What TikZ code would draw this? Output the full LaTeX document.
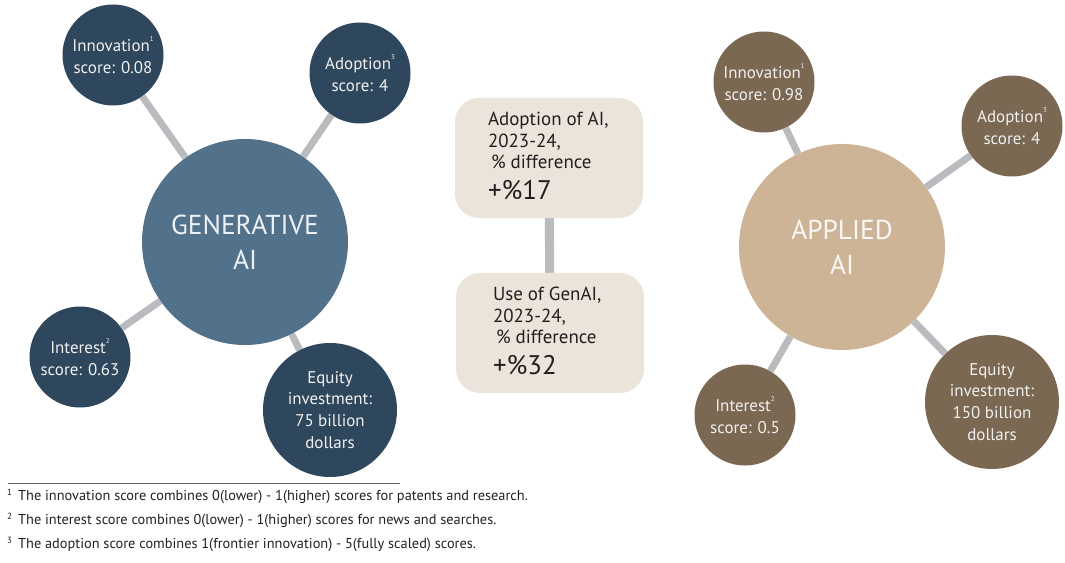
\documentclass[tikz,border=0pt]{standalone}
\usepackage{fontspec}
\setmainfont{PT Sans}
\usetikzlibrary{backgrounds}
\definecolor{genbig}{HTML}{52728C}
\definecolor{gensmall}{HTML}{2F475C}
\definecolor{appbig}{HTML}{CDB497}
\definecolor{appsmall}{HTML}{7A6852}
\definecolor{boxfill}{HTML}{EBE4DA}
\definecolor{linkgray}{HTML}{BABBBE}
\definecolor{inkdark}{HTML}{231F20}
\tikzset{%
  bigdot/.style={circle, minimum size=206bp, inner sep=0pt, align=center,
    font=\fontsize{27.5}{35}\selectfont},
  smalldot/.style={circle, minimum size=101bp, inner sep=0pt, align=center,
    text=white!94!black, font=\fontsize{17}{22}\selectfont},
  widedot/.style={smalldot, minimum size=134bp},
  link/.style={draw=linkgray, line width=7bp},
  statbox/.style={fill=boxfill, rounded corners=24bp, minimum width=188bp, minimum height=120bp},
  stattext/.style={anchor=west, align=left, inner sep=0pt, text=inkdark,
    font=\fontsize{19}{21.5}\selectfont},
  note/.style={anchor=base west, inner sep=0pt, text=inkdark, font=\fontsize{14.4}{16}\selectfont}
}
\newcommand{\fnmark}[1]{\raisebox{0.6em}{\fontsize{7}{7}\selectfont #1}}
\newcommand{\notemark}[1]{\makebox[11bp][l]{\raisebox{4.5bp}{\fontsize{9}{9}\selectfont #1}}}

\begin{document}
\begin{tikzpicture}[x=1bp, y=-1bp]
	\useasboundingbox (0,0) rectangle (1065,563);
	% generative AI
	\node[bigdot, fill=genbig, text=white!90!genbig] (gen) at (245,242) {GENERATIVE\\AI};
	\node[smalldot, fill=gensmall] (geninno) at (113,55) {Innovation\fnmark{1}\\score: 0.08};
	\node[smalldot, fill=gensmall] (genadopt) at (360,73) {Adoption\fnmark{3}\\score: 4};
	\node[smalldot, fill=gensmall] (geninter) at (80,357) {Interest\fnmark{2}\\score: 0.63};
	\node[widedot, fill=gensmall] (genequity) at (330,410) {Equity\\investment:\\75 billion\\dollars};
	% applied AI
	\node[bigdot, fill=appbig, text=white!92!appbig] (app) at (842,247) {APPLIED\\AI};
	\node[smalldot, fill=appsmall] (appinno) at (764,82) {Innovation\fnmark{1}\\score: 0.98};
	\node[smalldot, fill=appsmall] (appadopt) at (1012,126) {Adoption\fnmark{3}\\score: 4};
	\node[smalldot, fill=appsmall] (appinter) at (745,415) {Interest\fnmark{2}\\score: 0.5};
	\node[widedot, fill=appsmall] (appequity) at (992,402) {Equity\\investment:\\150 billion\\dollars};
	% middle boxes
	\node[statbox] (adopt) at (549,158) {};
	\node[stattext] (adopttext) at ([xshift=33bp, yshift=2bp]adopt.west)
		{Adoption of AI,\\2023-24,\\\hspace{3bp}\% difference\\[9bp]{\fontsize{27}{27}\selectfont +\%17}};
	\node[statbox] (genuse) at (550,333) {};
	\node[stattext] (genusetext) at ([xshift=37bp, yshift=2bp]genuse.west)
		{Use of GenAI,\\2023-24,\\\hspace{3bp}\% difference\\[9bp]{\fontsize{27}{27}\selectfont +\%32}};
	\begin{scope}[on background layer]
		\draw[link] (gen) -- (geninno);
		\draw[link] (gen) -- (genadopt);
		\draw[link] (gen) -- (geninter);
		\draw[link] (gen) -- (genequity);
		\draw[link] (app) -- (appinno);
		\draw[link] (app) -- (appadopt);
		\draw[link] (app) -- (appinter);
		\draw[link] (app) -- (appequity);
		\draw[link, line width=9bp] (adopt) -- (genuse);
	\end{scope}
	% footnotes
	\coordinate (ruleL) at (8,483);
	\coordinate (ruleR) at (400,483);
	\draw[black!60, line width=0.9bp] (ruleL) -- (ruleR);
	\node[note] (note1) at (7,500) {\notemark{1}The innovation score combines 0(lower) - 1(higher) scores for patents and research.};
	\node[note] (note2) at (7,524) {\notemark{2}The interest score combines 0(lower) - 1(higher) scores for news and searches.};
	\node[note] (note3) at (7,548) {\notemark{3}The adoption score combines 1(frontier innovation) - 5(fully scaled) scores.};
\end{tikzpicture}
\end{document}
